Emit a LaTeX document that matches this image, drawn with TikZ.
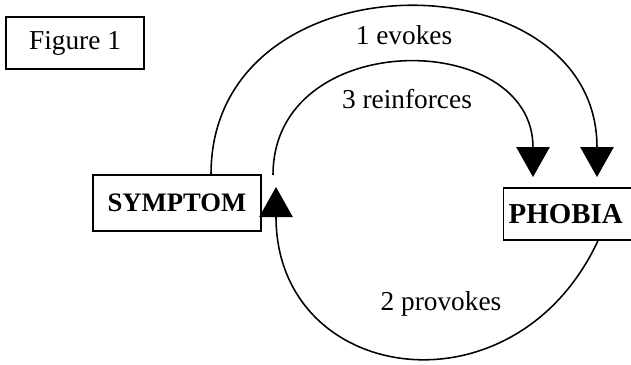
\documentclass[tikz,border=0pt]{standalone}
\usepackage{fontspec}
\setmainfont{Liberation Serif}
\usetikzlibrary{arrows.meta}

\begin{document}
\begin{tikzpicture}[x=0.45pt,y=0.45pt,
  box/.style={draw,line width=0.6pt,inner sep=0pt,font=\fontsize{12}{14}\selectfont},
  link/.style={line width=0.7pt,-{Triangle[width=15pt,length=13.5pt]}},
  lbl/.style={font=\fontsize{12.3}{14}\selectfont}]
\useasboundingbox (0,0) rectangle (631,364);
\node[box,minimum width=62pt,minimum height=23.4pt,font=\fontsize{12.3}{14}\selectfont] (fig) at (75,321) {Figure 1};
\node[box,minimum width=75.6pt,minimum height=25.2pt,font=\fontsize{12}{14}\selectfont\bfseries] (symptom) at (177,161) {SYMPTOM};
\node[box,anchor=west,inner xsep=2.25pt,text width=66pt,align=left,minimum height=23.4pt,font=\fontsize{13}{15}\selectfont\bfseries] (phobia) at (503,150) {PHOBIA};
\coordinate (evokes-tip) at (597,187);
\coordinate (reinf-start) at (273,189);
\coordinate (reinf-tip) at (533,187);
\coordinate (provokes-tip) at (276,177);
% 1 evokes
\draw[link] (211,0 |- symptom.north) to[out=90,in=90,looseness=1.47] (evokes-tip);
% 2 provokes
\draw[link] (598,0 |- phobia.south) to[out=-115,in=-90,looseness=1.55] (provokes-tip);
% 3 reinforces
\draw[link] (reinf-start) to[out=90,in=90,looseness=1.46] (reinf-tip);
\node[lbl] (l-evokes) at (404,329) {1 evokes};
\node[lbl] (l-provokes) at (441,60) {2 provokes};
\node[lbl] (l-reinf) at (407,265) {3 reinforces};
\end{tikzpicture}
\end{document}
